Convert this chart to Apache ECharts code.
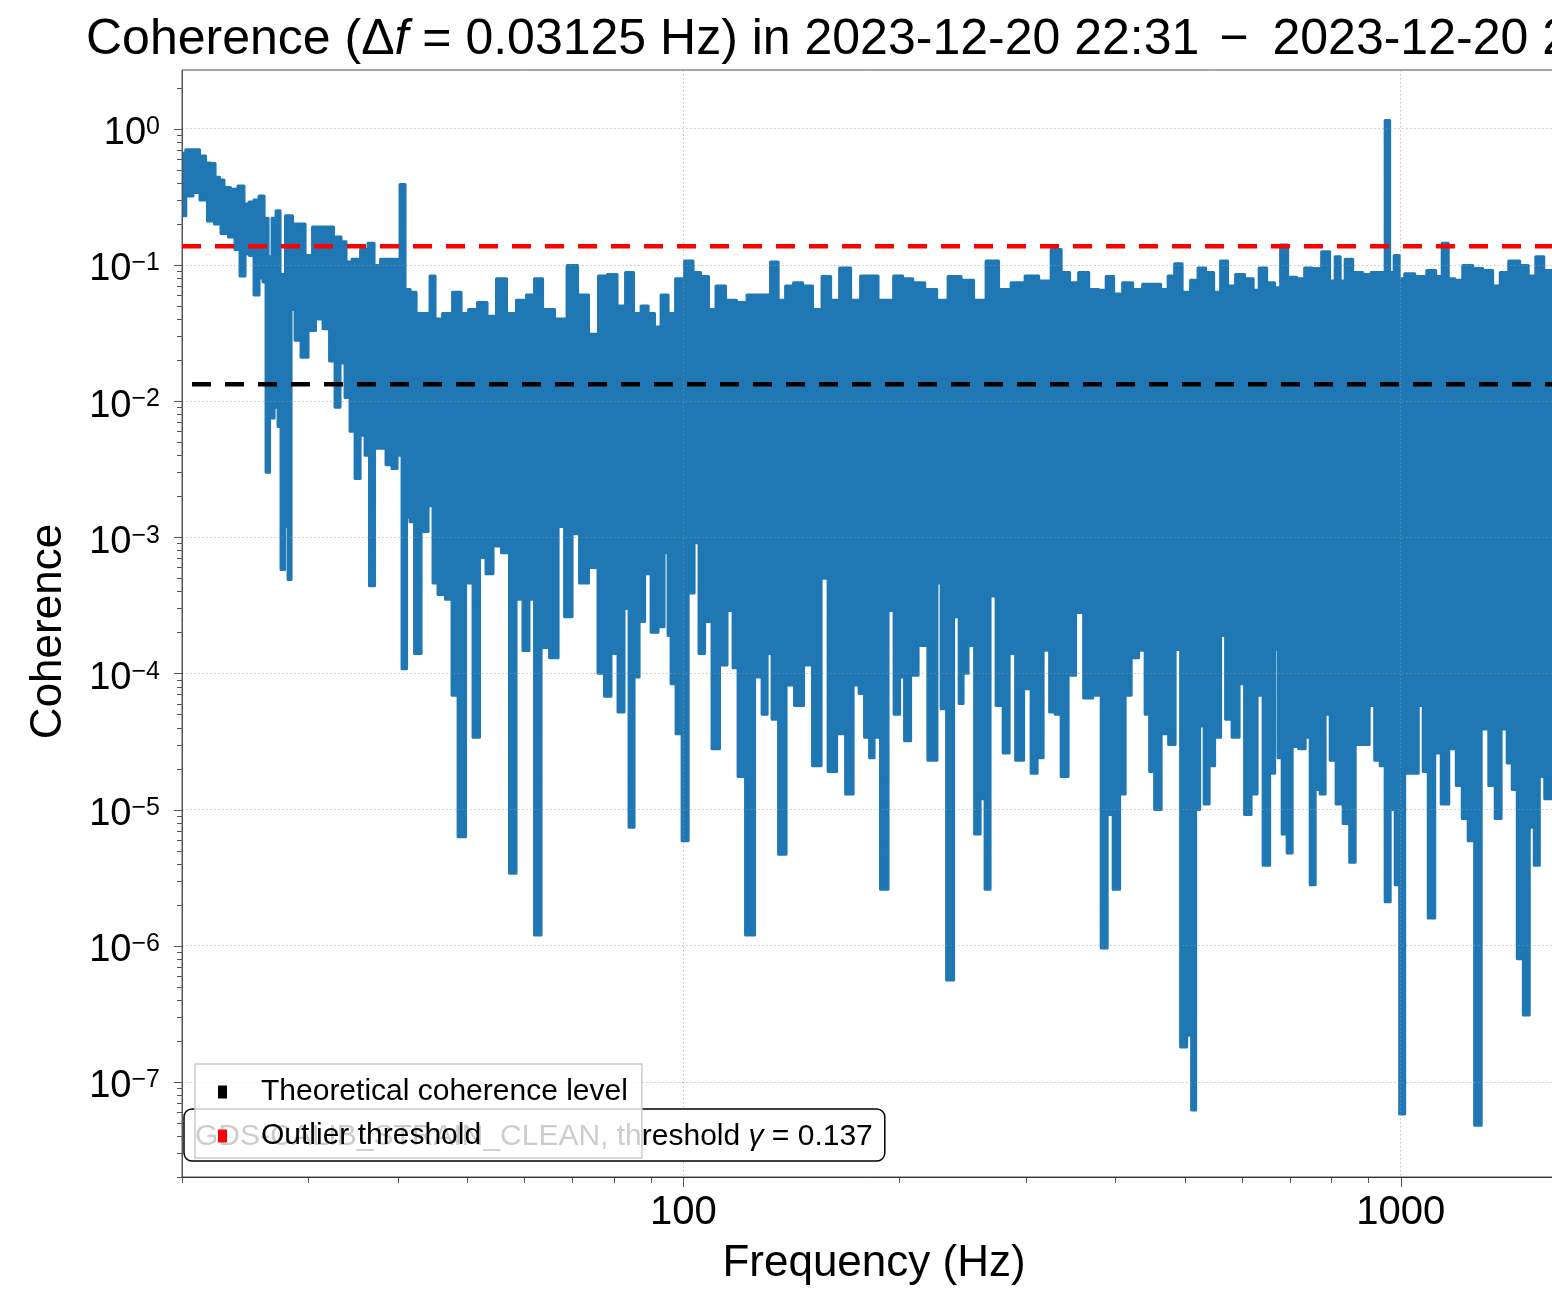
<!DOCTYPE html>
<html>
<head>
<meta charset="utf-8">
<title>Coherence</title>
<script src="https://cdn.jsdelivr.net/npm/echarts@6/dist/echarts.min.js"></script>
<style>
  html, body { margin: 0; padding: 0; background: #ffffff; }
  #chart { width: 1552px; height: 1297px; }
</style>
</head>
<body>
<div id="chart"></div>
<script>
// Coherence spectrum of GDS-CALIB_STRAIN_CLEAN (0.03125 Hz resolution).
// The dense trace is summarised by its per-bin upper and lower edges, [Hz, coherence].
const upperEdge = [
  [20.0, 0.66], [20.49, 0.70], [20.95, 0.70], [21.36, 0.63], [21.78, 0.56], [22.06, 0.555], [22.42, 0.44],
  [22.70, 0.42], [23.07, 0.37], [23.67, 0.36], [24.21, 0.38], [24.60, 0.28], [25.00, 0.29], [25.41, 0.30],
  [25.82, 0.32], [26.24, 0.22], [26.49, 0.115], [26.92, 0.22], [27.18, 0.25], [27.62, 0.085], [28.15, 0.23],
  [28.89, 0.20], [29.45, 0.20], [29.93, 0.117], [30.90, 0.19], [32.11, 0.19], [32.95, 0.16], [33.70, 0.148],
  [34.03, 0.105], [35.03, 0.11], [35.94, 0.13], [36.75, 0.144], [37.35, 0.099], [38.31, 0.11], [39.95, 0.11],
  [40.59, 0.39], [41.26, 0.066], [41.93, 0.063], [42.88, 0.044], [43.99, 0.044], [44.70, 0.083], [45.43, 0.040],
  [46.91, 0.044], [48.44, 0.063], [49.55, 0.044], [50.83, 0.047], [52.48, 0.053], [54.02, 0.042], [55.78, 0.079],
  [57.60, 0.044], [59.47, 0.055], [61.42, 0.060], [62.62, 0.079], [64.67, 0.047], [67.64, 0.040], [70.07, 0.099],
  [72.35, 0.060], [75.18, 0.031], [77.13, 0.083], [79.65, 0.085], [82.00, 0.050], [84.13, 0.088], [86.33, 0.044],
  [88.30, 0.050], [90.30, 0.044], [92.05, 0.035], [94.15, 0.060], [96.28, 0.044], [98.80, 0.079], [102.0, 0.107],
  [104.3, 0.088], [107.0, 0.082], [109.8, 0.047], [112.3, 0.070], [116.7, 0.055], [120.5, 0.053], [124.9, 0.060],
  [130.6, 0.060], [134.0, 0.105], [137.1, 0.055], [140.6, 0.070], [144.3, 0.074], [149.0, 0.070], [153.8, 0.047],
  [158.4, 0.082], [162.5, 0.055], [167.8, 0.095], [174.4, 0.055], [178.9, 0.083], [184.7, 0.083], [188.9, 0.055],
  [193.9, 0.055], [198.9, 0.083], [205.5, 0.079], [212.2, 0.074], [221.9, 0.066], [229.1, 0.055], [238.8, 0.082],
  [249.0, 0.077], [258.8, 0.055], [269.8, 0.107], [280.4, 0.066], [292.4, 0.074], [306.8, 0.083], [318.9, 0.076],
  [332.5, 0.130], [340.0, 0.088], [351.1, 0.074], [360.3, 0.088], [374.5, 0.066], [384.2, 0.065], [392.9, 0.082],
  [403.1, 0.061], [416.3, 0.074], [429.9, 0.066], [443.8, 0.072], [456.8, 0.072], [468.7, 0.066], [479.4, 0.083],
  [488.7, 0.102], [503.0, 0.063], [516.0, 0.077], [527.8, 0.095], [541.6, 0.088], [555.6, 0.063], [566.4, 0.107],
  [581.1, 0.070], [596.3, 0.085], [615.8, 0.079], [629.8, 0.065], [640.0, 0.095], [660.8, 0.074], [673.6, 0.068],
  [686.8, 0.140], [704.7, 0.081], [727.7, 0.079], [741.9, 0.095], [763.6, 0.094], [788.5, 0.125], [803.8, 0.076],
  [816.8, 0.115], [830.1, 0.076], [843.5, 0.110], [871.0, 0.088], [899.5, 0.085], [919.9, 0.088], [943.8, 0.088],
  [959.0, 1.15], [971.4, 0.088], [987.2, 0.117], [1003, 0.079], [1023, 0.086], [1070, 0.082], [1105, 0.091],
  [1133, 0.082], [1152, 0.144], [1178, 0.079], [1201, 0.077], [1240, 0.099], [1280, 0.094], [1322, 0.091],
  [1365, 0.070], [1388, 0.088], [1442, 0.107], [1489, 0.099], [1523, 0.083], [1563, 0.115], [1603, 0.091],
  [1645, 0.090]
];

const lowerEdge = [
  [20.0, 0.23], [20.49, 0.32], [20.95, 0.34], [21.43, 0.30], [21.98, 0.21], [22.42, 0.20], [22.92, 0.17],
  [23.52, 0.16], [23.90, 0.13], [24.29, 0.083], [24.68, 0.12], [25.00, 0.117], [25.41, 0.060], [25.82, 0.080],
  [26.07, 0.075], [26.32, 0.0030], [26.66, 0.0075], [27.10, 0.0090], [27.35, 0.0065], [27.62, 0.00058],
  [27.98, 0.0012], [28.25, 0.00049], [28.52, 0.047], [28.98, 0.028], [29.64, 0.021], [30.31, 0.033],
  [31.10, 0.040], [31.81, 0.034], [32.43, 0.0197], [32.95, 0.0090], [33.48, 0.019], [34.03, 0.0106],
  [34.58, 0.0060], [35.14, 0.0027], [35.71, 0.0056], [36.28, 0.0040], [36.75, 0.00044], [37.47, 0.0045],
  [38.07, 0.0045], [38.94, 0.0034], [39.57, 0.0032], [40.21, 0.0040], [40.86, 0.000108], [41.39, 0.0014],
  [41.79, 0.0013], [42.60, 0.00014], [43.57, 0.0011], [44.56, 0.0017], [44.98, 0.00046], [46.01, 0.00038],
  [47.20, 0.00035], [47.98, 6.9e-5], [49.07, 6.3e-6], [50.34, 0.00046], [51.48, 3.4e-5], [52.48, 0.00071],
  [53.67, 0.00054], [54.89, 0.00086], [56.68, 0.00077], [57.79, 3.4e-6], [59.09, 0.00035], [60.44, 0.000147],
  [61.42, 0.00035], [62.62, 1.2e-6], [64.05, 0.000155], [66.14, 0.00013], [67.64, 0.0012], [68.95, 0.00026],
  [70.97, 0.00106], [72.35, 0.00046], [75.18, 0.00060], [76.89, 0.00010], [78.38, 6.8e-5], [80.16, 0.00014],
  [82.00, 5.2e-5], [83.32, 0.00030], [84.67, 7.4e-6], [86.05, 9.4e-5], [87.45, 0.00024], [89.16, 0.00054],
  [91.17, 0.00020], [93.24, 0.00022], [94.75, 0.00077], [95.67, 0.00019], [96.59, 8.4e-5], [98.80, 3.6e-5],
  [100.4, 5.9e-6], [102.7, 0.00039], [104.3, 0.00091], [106.0, 0.00014], [108.1, 0.00024], [111.2, 2.8e-5],
  [113.4, 0.000115], [116.7, 0.00029], [117.9, 0.00011], [120.5, 1.75e-5], [123.7, 1.2e-6], [127.7, 9.4e-5],
  [129.8, 5.0e-5], [131.9, 0.00014], [134.0, 4.6e-5], [137.5, 4.7e-6], [140.6, 8.2e-5], [145.2, 5.8e-5],
  [149.0, 0.000115], [153.8, 2.1e-5], [157.4, 0.00050], [160.9, 1.9e-5], [166.2, 3.6e-5], [170.5, 1.3e-5],
  [174.4, 8.2e-5], [177.2, 7.1e-5], [180.6, 3.4e-5], [183.0, 2.4e-5], [185.9, 3.4e-5], [190.7, 2.6e-6],
  [195.1, 0.00029], [198.3, 5.0e-5], [202.1, 9.4e-5], [204.7, 3.2e-5], [210.1, 9.7e-5], [214.8, 0.00016],
  [223.7, 2.3e-5], [227.7, 0.00046], [229.8, 5.5e-5], [235.8, 5.6e-7], [240.4, 0.00026], [244.3, 6.0e-5],
  [246.6, 0.00010], [252.2, 0.00016], [257.2, 6.6e-6], [261.3, 1.2e-5], [265.5, 2.6e-6], [269.8, 0.00037],
  [276.0, 5.8e-5], [282.3, 2.6e-5], [286.8, 0.00014], [294.3, 2.3e-5], [301.9, 7.7e-5], [308.8, 1.85e-5],
  [313.8, 2.4e-5], [320.9, 0.000148], [327.2, 5.2e-5], [332.5, 5.0e-5], [340.0, 1.75e-5], [347.7, 9.7e-5],
  [356.8, 0.00028], [366.1, 6.6e-5], [378.1, 6.9e-5], [386.7, 9.6e-7], [392.9, 9.2e-6], [401.8, 2.6e-6],
  [409.6, 1.3e-5], [416.3, 6.9e-5], [425.7, 0.00013], [436.8, 0.000148], [443.8, 5.0e-5], [449.6, 1.9e-5],
  [458.3, 1.0e-5], [468.7, 3.6e-5], [480.9, 3.0e-5], [488.7, 0.00015], [498.2, 1.8e-7], [507.9, 2.2e-7],
  [514.4, 6.2e-8], [521.2, 1.0e-5], [527.8, 4.1e-5], [536.4, 1.1e-5], [545.0, 2.1e-5], [555.6, 3.4e-5],
  [566.4, 0.00019], [573.7, 4.6e-5], [590.5, 3.4e-5], [600.1, 8.4e-5], [611.7, 9.2e-6], [625.6, 1.3e-5],
  [635.8, 6.9e-5], [650.3, 3.9e-6], [663.0, 1.85e-5], [671.5, 0.00015], [678.0, 2.4e-5], [689.0, 6.6e-6],
  [700.2, 4.8e-6], [711.5, 2.9e-5], [730.0, 2.8e-5], [741.9, 3.4e-5], [753.9, 2.8e-6], [766.1, 1.4e-5],
  [778.4, 1.3e-5], [791.0, 5.0e-5], [803.8, 2.3e-5], [822.1, 1.1e-5], [840.8, 7.9e-6], [857.2, 4.1e-6],
  [871.0, 3.0e-5], [896.6, 3.0e-5], [911.1, 5.8e-5], [928.8, 2.3e-5], [943.8, 2.1e-5], [959.0, 2.1e-6],
  [974.7, 1.0e-5], [990.4, 2.8e-6], [1003, 5.8e-8], [1023, 1.85e-5], [1046, 1.85e-5], [1070, 5.8e-5],
  [1080, 1.9e-5], [1105, 1.6e-6], [1126, 2.6e-5], [1152, 1.1e-5], [1182, 2.8e-5], [1209, 1.5e-5],
  [1228, 8.6e-6], [1256, 5.9e-6], [1280, 4.8e-8], [1310, 3.9e-5], [1344, 1.5e-5], [1365, 8.6e-6],
  [1396, 3.9e-5], [1419, 2.2e-5], [1442, 1.4e-5], [1466, 8.0e-7], [1499, 3.1e-7], [1523, 7.4e-6],
  [1548, 3.9e-6], [1573, 1.75e-5], [1603, 1.2e-5], [1645, 3.0e-5]
];

// Reference levels
const theoreticalLevel = 0.0133;
const outlierThreshold = 0.137;

// Axis ranges and ticks
const freqRange = [20, 1700];
const cohRange = [2e-8, 2.7];
const freqMajorTicks = [100, 1000];
const freqMinorTicks = [20, 30, 40, 50, 60, 70, 80, 90, 200, 300, 400, 500, 600, 700, 800, 900];
const cohMajorTicks = [1e-7, 1e-6, 1e-5, 1e-4, 1e-3, 1e-2, 1e-1, 1];
const cohMinorTicks = [];
for (let e = -8; e <= 0; e++) {
  for (let k = 2; k <= 9; k++) {
    const v = k * Math.pow(10, e);
    if (v >= cohRange[0] && v <= cohRange[1]) cohMinorTicks.push(v);
  }
}

const seriesName = 'GDS-CALIB_STRAIN_CLEAN, threshold γ = 0.137';
const FONT = "'Liberation Sans', Arial, Helvetica, sans-serif";
const BLUE = '#1f77b4';
const SPINE = '#555555';

function isDecade(v) {
  const l = Math.log10(v);
  return Math.abs(l - Math.round(l)) < 1e-6;
}

// Mid-point step outline through a list of pixel points
function stepOutline(pts) {
  const out = [pts[0]];
  for (let i = 0; i < pts.length - 1; i++) {
    const a = pts[i], b = pts[i + 1];
    const mx = (a[0] + b[0]) / 2;
    out.push([mx, a[1]], [mx, b[1]]);
  }
  out.push(pts[pts.length - 1]);
  return out;
}

function renderSpectrum(params, api) {
  const up = upperEdge.map(d => api.coord(d));
  const lo = lowerEdge.map(d => api.coord(d)).reverse();
  const points = stepOutline(up).concat(stepOutline(lo));
  return {
    type: 'polygon',
    shape: { points: points },
    style: { fill: BLUE, stroke: BLUE, lineWidth: 3, lineJoin: 'round' }
  };
}

function renderTicks(params, api) {
  const children = [];
  const seg = (x1, y1, x2, y2) => children.push({
    type: 'line',
    shape: { x1: x1, y1: y1, x2: x2, y2: y2 },
    style: { stroke: SPINE, lineWidth: 1 }
  });
  const px = v => Math.round(v) + 0.5;
  freqMajorTicks.forEach(f => { const p = api.coord([f, cohRange[0]]); seg(px(p[0]), p[1], px(p[0]), p[1] + 10); });
  freqMinorTicks.forEach(f => { const p = api.coord([f, cohRange[0]]); seg(px(p[0]), p[1], px(p[0]), p[1] + 6); });
  cohMajorTicks.forEach(c => { const p = api.coord([freqRange[0], c]); seg(p[0] - 8, px(p[1]), p[0], px(p[1])); });
  cohMinorTicks.forEach(c => { const p = api.coord([freqRange[0], c]); seg(p[0] - 5, px(p[1]), p[0], px(p[1])); });
  return { type: 'group', children: children };
}

const gridLine = { show: true, lineStyle: { color: 'rgba(150,150,150,0.6)', width: 1, type: [1.5, 2.5] } };
const titleFont = { fontFamily: FONT, fontSize: 50, color: '#000', fontWeight: 'normal' };

const option = {
  animation: false,
  backgroundColor: '#ffffff',
  title: {
    text: '{a|Coherence (Δ}{i|f}{a| = 0.03125 Hz) in 2023-12-20 22:31}{m|−}{a|2023-12-20 2}',
    left: 86,
    top: 15,
    padding: 0,
    textStyle: {
      fontWeight: 'normal',
      rich: {
        a: titleFont,
        i: Object.assign({}, titleFont, { fontStyle: 'italic' }),
        m: Object.assign({}, titleFont, { padding: [0, 24, 0, 20] })
      }
    }
  },
  grid: {
    left: 182, top: 70, width: 1384, height: 1107,
    show: true, borderColor: SPINE, borderWidth: 1, backgroundColor: 'transparent',
    containLabel: false, outerBoundsMode: 'none'
  },
  xAxis: {
    type: 'log', logBase: 10, min: freqRange[0], max: freqRange[1], z: 3,
    axisLine: { show: true, onZero: false, lineStyle: { color: '#333333', width: 1.2 } },
    axisTick: { show: false },
    minorTick: { show: false },
    splitLine: gridLine,
    axisLabel: {
      margin: 16, color: '#000', fontFamily: FONT, fontSize: 40,
      formatter: v => isDecade(v) ? String(Math.round(v)) : ''
    },
    name: 'Frequency (Hz)', nameLocation: 'middle', nameGap: 65, nameMoveOverlap: false,
    nameTextStyle: { color: '#000', fontFamily: FONT, fontSize: 44 }
  },
  yAxis: {
    type: 'log', logBase: 10, min: cohRange[0], max: cohRange[1], z: 3,
    axisLine: { show: true, onZero: false, lineStyle: { color: SPINE, width: 1 } },
    axisTick: { show: false },
    minorTick: { show: false },
    splitLine: gridLine,
    axisLabel: {
      margin: 22, padding: [10, 0, 0, 0],
      formatter: v => {
        if (!isDecade(v)) return '';
        const e = Math.round(Math.log10(v));
        return '{b|10}{s|' + (e < 0 ? '−' + (-e) : String(e)) + '}';
      },
      rich: {
        b: { fontFamily: FONT, fontSize: 38, lineHeight: 38, color: '#000', verticalAlign: 'bottom' },
        s: { fontFamily: FONT, fontSize: 25, lineHeight: 28, color: '#000', verticalAlign: 'top' }
      }
    },
    name: 'Coherence', nameLocation: 'middle', nameGap: 111, nameMoveOverlap: false,
    nameTextStyle: { color: '#000', fontFamily: FONT, fontSize: 44, padding: [0, 16, 0, 0] }
  },
  legend: [
    {
      z: 10, selectedMode: false, orient: 'horizontal',
      left: 184, top: 1109, padding: [13, 12, 9, 6],
      itemWidth: 0, itemHeight: 0, icon: 'none',
      data: [{ name: seriesName, icon: 'none' }],
      backgroundColor: '#ffffff', borderColor: '#000000', borderWidth: 1.5, borderRadius: 8,
      formatter: name => '{a|' + name.replace('γ', '}{g|γ}{a|') + '}',
      textStyle: {
        rich: {
          a: { fontFamily: FONT, fontSize: 30, lineHeight: 32, color: '#000' },
          g: { fontFamily: FONT, fontSize: 30, lineHeight: 32, color: '#000', fontStyle: 'italic' }
        }
      }
    },
    {
      z: 11, selectedMode: false, orient: 'vertical',
      left: 195, top: 1064, padding: [13, 14, 7, 23],
      itemWidth: 9, itemHeight: 13, itemGap: 14, icon: 'rect',
      itemStyle: { borderWidth: 0 },
      data: ['Theoretical coherence level', 'Outlier threshold'],
      backgroundColor: 'rgba(255,255,255,0.8)', borderColor: '#cccccc', borderWidth: 1.5, borderRadius: 0,
      formatter: name => '{t|' + name + '}',
      textStyle: {
        rich: { t: { fontFamily: FONT, fontSize: 30, lineHeight: 32, color: '#000', padding: [0, 0, 0, 29] } }
      }
    }
  ],
  series: [
    {
      type: 'custom', name: seriesName, z: 2, clip: true, silent: true,
      itemStyle: { color: BLUE },
      data: [upperEdge[0]],
      renderItem: renderSpectrum
    },
    {
      type: 'line', name: 'Theoretical coherence level', z: 4, silent: true,
      symbol: 'none', showSymbol: false,
      data: [[freqRange[0], theoreticalLevel], [freqRange[1], theoreticalLevel]],
      itemStyle: { color: '#000000' },
      lineStyle: { color: '#000000', width: 4.5, type: [19, 14], dashOffset: 23 }
    },
    {
      type: 'line', name: 'Outlier threshold', z: 4, silent: true,
      symbol: 'none', showSymbol: false,
      data: [[freqRange[0], outlierThreshold], [freqRange[1], outlierThreshold]],
      itemStyle: { color: '#ff0000' },
      lineStyle: { color: '#ff0000', width: 4.5, type: [19, 14] }
    },
    {
      type: 'custom', name: 'ticks', z: 3, clip: false, silent: true,
      data: [[freqRange[0], cohRange[0]]],
      renderItem: renderTicks
    }
  ]
};

const chart = echarts.init(document.getElementById('chart'), null, { renderer: 'canvas' });
chart.setOption(option);
</script>
</body>
</html>
